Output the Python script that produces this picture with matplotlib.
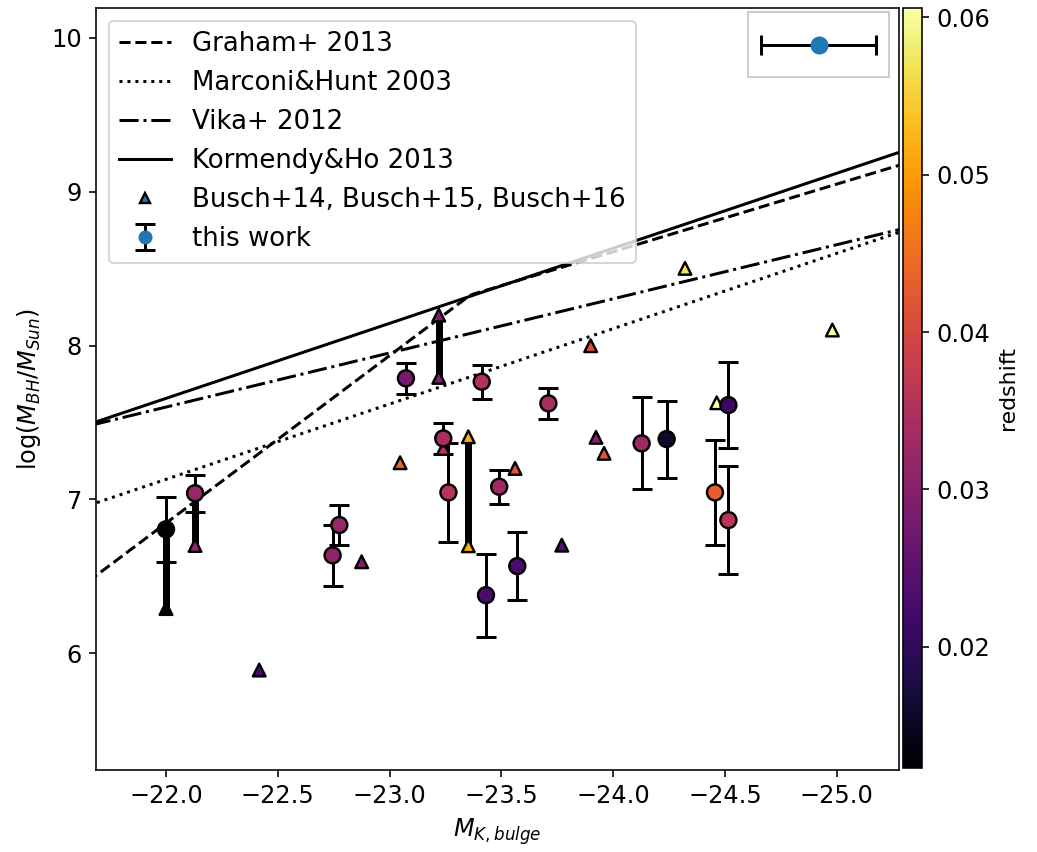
import numpy as np
import matplotlib
matplotlib.use("Agg")
import matplotlib.pyplot as plt
from matplotlib.colors import Normalize
from matplotlib.lines import Line2D
from matplotlib.patches import Rectangle

# this work: bulge K magnitude, log black hole mass, 1-sigma error, redshift
mk_this = [-22.0, -22.13, -22.745, -22.775, -23.073, -23.24, -23.263, -23.412, -23.431,
           -23.49, -23.571, -23.71, -24.127, -24.239, -24.455, -24.515, -24.515]
mbh_this = [6.805, 7.04, 6.636, 6.833, 7.787, 7.396, 7.045, 7.765, 6.377,
            7.082, 6.566, 7.624, 7.364, 7.392, 7.045, 6.865, 7.613]
err_this = [0.21, 0.12, 0.20, 0.13, 0.10, 0.10, 0.32, 0.11, 0.27,
            0.11, 0.22, 0.10, 0.30, 0.25, 0.34, 0.35, 0.28]
z_this = [0.0123, 0.032, 0.031, 0.032, 0.028, 0.034, 0.036, 0.035, 0.023,
          0.033, 0.023, 0.034, 0.033, 0.016, 0.043, 0.036, 0.021]

# Busch+14/15/16
mk_busch = [-22.0, -22.13, -22.417, -22.875, -23.047, -23.22, -23.22, -23.24, -23.352,
            -23.352, -23.561, -23.77, -23.899, -23.923, -23.959, -24.321, -24.463, -24.98]
mbh_busch = [6.29, 6.70, 5.89, 6.594, 7.238, 8.198, 7.793, 7.331, 7.407,
             6.698, 7.201, 6.702, 7.999, 7.403, 7.299, 8.502, 7.628, 8.101]
z_busch = [0.0125, 0.032, 0.023, 0.029, 0.044, 0.029, 0.029, 0.036, 0.052,
           0.052, 0.042, 0.024, 0.041, 0.030, 0.042, 0.057, 0.0606, 0.0606]

# ranges joining multiple estimates of the same object
range_x = [-22.0, -22.13, -23.22, -23.352]
range_lo = [6.29, 6.70, 7.793, 6.698]
range_hi = [6.805, 7.04, 8.198, 7.407]

# typical magnitude uncertainty shown in the corner
typ_x, typ_y, typ_xerr = -24.92, 9.955, 0.257

# scaling relations, log M = a - b * (M_K - pivot)
graham_sersic = (7.39, 1.09, -22.5)
graham_core = (9.05, 0.44, -25.0)
marconi = (7.13, 0.49, -22.0)
vika = (7.60, 0.352, -22.0)
kormendy = (8.735, 0.488, -24.21)


def relation(mk, coeffs):
    a, b, piv = coeffs
    return a - b * (mk - piv)


W, H, DPI = 1037, 852, 144
fig = plt.figure(figsize=(W / DPI, H / DPI), dpi=DPI)
ax = fig.add_axes([96 / W, 1 - 770 / H, 803 / W, 762 / H])
cax = fig.add_axes([903 / W, 1 - 768 / H, 19 / W, 760 / H])

xx = np.linspace(-21.0, -26.0, 300)
ax.plot(xx, np.minimum(relation(xx, graham_sersic), relation(xx, graham_core)),
        "k--", lw=1.5)
ax.plot(xx, relation(xx, marconi), "k:", lw=1.5)
ax.plot(xx, relation(xx, vika), "k-.", lw=1.5)
ax.plot(xx, relation(xx, kormendy), "k-", lw=1.5)

ax.vlines(range_x, range_lo, range_hi, color="k", lw=3.5, zorder=2)

allz = np.array(z_this + z_busch)
norm = Normalize(vmin=allz.min(), vmax=allz.max())

ax.errorbar(mk_this, mbh_this, yerr=err_this, fmt="none", ecolor="k",
            capsize=5, elinewidth=1.5, capthick=1.5, zorder=3)
ax.scatter(mk_busch, mbh_busch, c=z_busch, cmap="inferno", norm=norm, marker="^",
           s=40, edgecolors="k", linewidths=1.2, zorder=4)
sc = ax.scatter(mk_this, mbh_this, c=z_this, cmap="inferno", norm=norm, marker="o",
                s=64, edgecolors="k", linewidths=1.2, zorder=5)

# corner box with the typical error
ax.add_patch(Rectangle((0.812, 0.909), 0.1755, 0.0858, transform=ax.transAxes,
                       facecolor="white", edgecolor="0.8", lw=1.0, zorder=5))
ax.errorbar([typ_x], [typ_y], xerr=[typ_xerr], fmt="o", color="C0", ecolor="k",
            ms=8, capsize=5, elinewidth=1.5, capthick=1.5, zorder=6)

handles = [
    Line2D([], [], color="k", ls="--", lw=1.5),
    Line2D([], [], color="k", ls=":", lw=1.5),
    Line2D([], [], color="k", ls="-.", lw=1.5),
    Line2D([], [], color="k", ls="-", lw=1.5),
    Line2D([], [], color="C0", marker="^", ls="none", ms=5, mec="k", mew=1.2),
    ax.errorbar([np.nan], [np.nan], yerr=[1], fmt="o", color="C0", ecolor="k",
                capsize=5, elinewidth=1.5, capthick=1.5),
]
labels = ["Graham+ 2013", "Marconi&Hunt 2003", "Vika+ 2012", "Kormendy&Ho 2013",
          "Busch+14, Busch+15, Busch+16", "this work"]
ax.legend(handles, labels, loc="upper left", fontsize=13)

ax.set_xlim(-21.687, -25.278)
ax.set_ylim(5.24, 10.195)
ax.tick_params(labelsize=12)
ax.set_xlabel(r"$M_{K,bulge}$", fontsize=12)
ax.set_ylabel(r"log($M_{BH}/M_{Sun}$)", fontsize=12)

cb = fig.colorbar(sc, cax=cax)
cb.set_label("redshift", fontsize=11)
cb.ax.tick_params(labelsize=12)

fig.savefig("out.png", dpi=DPI)
